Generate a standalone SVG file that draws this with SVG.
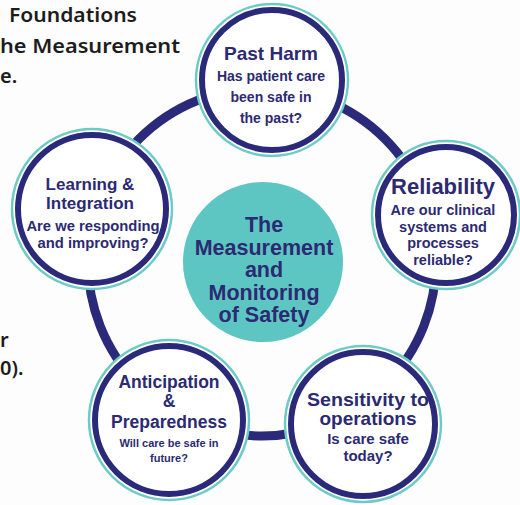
<svg xmlns="http://www.w3.org/2000/svg" width="520" height="505" viewBox="0 0 520 505">
<style>
.bg{font-family:"Noto Sans","Open Sans",sans-serif;font-weight:600;fill:#1c1c1c;font-size:20px}
.t{font-family:"Liberation Sans",Arial,sans-serif;font-weight:bold;fill:#2b2a72;text-anchor:middle}
.ring{fill:#ffffff;stroke:#6dcac6;stroke-width:2.5}
.nav{fill:none;stroke:#2b2a7a;stroke-width:6}
.conn{fill:none;stroke:#2b2a7a;stroke-width:9}
</style>
<rect width="520" height="505" fill="#fdfdfd"/>
<g id="background-text">
<text class="bg" x="9" y="22" textLength="128" lengthAdjust="spacingAndGlyphs">Foundations</text>
<text class="bg" x="0" y="53" textLength="180" lengthAdjust="spacingAndGlyphs">he Measurement</text>
<text class="bg" x="0" y="83">e.</text>
<text class="bg" x="0" y="347">r</text>
<text class="bg" x="0" y="375">0).</text>
</g>
<g id="connectors">
<circle class="conn" cx="262" cy="262" r="174"/>
</g>
<g id="center">
<circle cx="263" cy="262" r="80" fill="#5ec6c2"/>
<text class="t" font-size="21.5"><tspan x="264" y="232">The</tspan><tspan x="264" y="255">Measurement</tspan><tspan x="264" y="277">and</tspan><tspan x="264" y="300">Monitoring</tspan><tspan x="264" y="322">of Safety</tspan></text>
</g>
<g id="past-harm">
<circle class="ring" cx="272" cy="80" r="76"/>
<circle class="nav" cx="272" cy="80" r="70"/>
<text class="t" font-size="19"><tspan x="271" y="60">Past Harm</tspan></text>
<text class="t" font-size="14"><tspan x="271" y="81">Has patient care</tspan><tspan x="271" y="102">been safe in</tspan><tspan x="271" y="123">the past?</tspan></text>
</g>
<g id="reliability">
<circle class="ring" cx="446" cy="215" r="74"/>
<circle class="nav" cx="446" cy="215" r="68"/>
<text class="t" font-size="22"><tspan x="443" y="194">Reliability</tspan></text>
<text class="t" font-size="14.5"><tspan x="443" y="215">Are our clinical</tspan><tspan x="443" y="232">systems and</tspan><tspan x="443" y="248">processes</tspan><tspan x="443" y="265">reliable?</tspan></text>
</g>
<g id="learning">
<circle class="ring" cx="92" cy="209" r="80"/>
<circle class="nav" cx="92" cy="209" r="74"/>
<text class="t" font-size="17"><tspan x="90" y="190">Learning &amp;</tspan><tspan x="90" y="209">Integration</tspan></text>
<text class="t" font-size="14.8"><tspan x="93" y="231">Are we responding</tspan><tspan x="93" y="248">and improving?</tspan></text>
</g>
<g id="anticipation">
<circle class="ring" cx="169" cy="420" r="80"/>
<circle class="nav" cx="169" cy="420" r="74"/>
<text class="t" font-size="17.5"><tspan x="169" y="388">Anticipation</tspan><tspan x="169" y="407">&amp;</tspan><tspan x="169" y="428">Preparedness</tspan></text>
<text class="t" font-size="11"><tspan x="169" y="447">Will care be safe in</tspan><tspan x="169" y="462">future?</tspan></text>
</g>
<g id="sensitivity">
<circle class="ring" cx="363" cy="424" r="78"/>
<circle class="nav" cx="363" cy="424" r="72"/>
<text class="t" font-size="18.5"><tspan x="368" y="406" textLength="122" lengthAdjust="spacingAndGlyphs">Sensitivity to</tspan><tspan x="368" y="425" textLength="97" lengthAdjust="spacingAndGlyphs">operations</tspan></text>
<text class="t" font-size="15"><tspan x="368" y="444">Is care safe</tspan><tspan x="368" y="461">today?</tspan></text>
</g>
</svg>
